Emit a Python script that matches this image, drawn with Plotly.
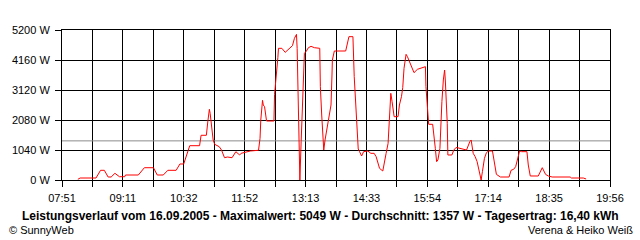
import plotly.graph_objects as go

# time of day in minutes after midnight, power in W
time_min = [492, 495, 516, 522, 527, 532, 536, 541, 547, 554, 555, 572, 580, 592, 597, 605, 611, 622,
            627, 632, 640, 653, 655, 662, 664, 666, 667, 670, 671, 673, 679, 682, 686, 690, 696, 701,
            706, 708, 713, 720, 731, 733, 734, 735.6, 736.3, 737.3, 739, 741.6, 751.4, 752.2, 754.8,
            756.6, 757.4, 761.9, 766.3, 775.9, 778.5, 781.2, 782.1, 783, 783.8, 784.3, 785.7, 787.4,
            789.1, 790, 791.7, 794.4, 797, 800.5, 804.9, 812, 812.8, 814.6, 816.4, 817.3, 819, 820.7,
            823.3, 825.2, 826.9, 828.2, 828.7, 831.3, 846.3, 850.6, 855.9, 857.6, 859.5, 861.2, 862.9,
            864.7, 867.4, 870, 875.7, 879.6, 884, 886.6, 888.4, 891.1, 895.4, 897.2, 899.8, 902.4,
            904.3, 906, 907.7, 910.4, 915.6, 917.4, 920.1, 921.8, 923.5, 926.2, 928, 932.4, 936.7,
            941.2, 946.5, 951.8, 952.5, 954.4, 955.2, 956.1, 961.4, 963.1, 964.9, 966.6, 968.3, 971,
            971.9, 973.6, 975.5, 977.2, 978.1, 979.8, 980.7, 981.5, 986.8, 989.4, 992.1, 993.9, 1006.2,
            1010.5, 1012.3, 1015, 1017.6, 1020.2, 1022.9, 1025.5, 1027.2, 1029.9, 1032.5, 1035.2,
            1040.5, 1043.1, 1045.7, 1051, 1062.5, 1065.1, 1068.5, 1071.2, 1073.8, 1076.4, 1079.1,
            1086.1, 1087.9, 1090.5, 1101.1, 1106.4, 1110.7, 1114.3, 1119.5, 1143.3, 1145, 1160.8, 1164.4]
power_w = [24, 69, 69, 336, 336, 104, 104, 232, 114, 114, 173, 173, 426, 426, 173, 173, 336, 336,
           555, 555, 1189, 1189, 1550, 1550, 2045, 2451, 2312, 1675, 1387, 1237, 1155, 1040, 773, 797, 773, 981,
           867, 925, 960, 1005, 1030, 1446, 2080, 2541, 2763, 2600, 2541, 2045, 2045, 2971, 3616,
           4241, 4565, 4565, 4426, 4657, 4911, 5049, 4565, 3236, 1907, 635, 0, 1328,
           2485, 3640, 4392, 4472, 4587, 4634, 4587, 4565, 3236, 2253, 1446, 1040, 1387, 1675,
           2022, 2277, 2600, 3640, 4160, 4472, 4472, 4969, 4969, 3582, 2600, 1618, 1075,
           982, 832, 982, 1005, 925, 925, 809, 635, 404, 312, 520, 925, 1271,
           2138, 3005, 2715, 2195, 2195, 2600, 2889, 3201, 3871, 4357, 4276, 3987, 3721,
           3837, 3894, 3929, 3236, 2658, 2195, 1931, 1931, 1387, 1098, 635, 693, 1098,
           1907, 2715, 3467, 3813, 3467, 2715, 1965, 867, 867, 1040, 1121, 1121, 1040,
           1328, 1387, 925, 809, 635, 289, 0, 289, 751, 947, 1005,
           1005, 520, 197, 104, 104, 336, 371, 462, 773, 1005, 982,
           982, 520, 139, 139, 427, 197, 139, 104, 104, 69, 69, 35]

average_w = 1357
x_start, x_end = 471, 1196          # 07:51 .. 19:56
y_ticks = [0, 1040, 2080, 3120, 4160, 5200]
y_labels = ["0 W", "1040 W", "2080 W", "3120 W", "4160 W", "5200 W"]
x_labels = ["07:51", "09:11", "10:32", "11:52", "13:13", "14:33", "15:54", "17:14", "18:35", "19:56"]
title_text = ("Leistungsverlauf vom 16.09.2005 - Maximalwert: 5049 W - Durchschnitt: 1357 W"
              " - Tagesertrag: 16,40 kWh")

n_div = 18
step = (x_end - x_start) / n_div
x_tickvals = [x_start + i * step for i in range(n_div + 1)]
x_ticktext = [x_labels[i // 2] if i % 2 == 0 else "" for i in range(n_div + 1)]

FONT = "Liberation Sans, Arial, sans-serif"

fig = go.Figure()
fig.add_trace(go.Scatter(x=[x_start, x_end], y=[average_w, average_w], mode="lines",
                         line=dict(color="#8c8c8c", width=1), hoverinfo="skip"))
fig.add_trace(go.Scatter(x=time_min, y=power_w, mode="lines",
                         line=dict(color="#ff0000", width=1)))

fig.update_layout(
    width=640, height=240,
    margin=dict(l=60, r=30, t=30, b=60),
    paper_bgcolor="white", plot_bgcolor="white",
    showlegend=False,
    font=dict(family=FONT, size=11, color="black"),
    xaxis=dict(range=[x_start, x_end], tickvals=x_tickvals, ticktext=x_ticktext,
               showgrid=True, gridcolor="black", gridwidth=1, zeroline=False,
               showline=True, linecolor="black", linewidth=1, mirror=True,
               ticks="outside", ticklen=6, tickcolor="black", tickwidth=1,
               tickfont=dict(family=FONT, size=11, color="black"), ticklabelstandoff=2),
    yaxis=dict(range=[0, 5200], tickvals=y_ticks, ticktext=y_labels,
               showgrid=True, gridcolor="black", gridwidth=1, zeroline=False,
               showline=True, linecolor="black", linewidth=1, mirror=True,
               ticks="outside", ticklen=6, tickcolor="black", tickwidth=1,
               tickfont=dict(family=FONT, size=11, color="black"), ticklabelstandoff=3),
    annotations=[
        dict(text="<b>" + title_text + "</b>", xref="paper", yref="paper",
             x=0.471, y=-0.24, xanchor="center", yanchor="middle", showarrow=False,
             font=dict(family=FONT, size=12, color="black")),
        dict(text="© SunnyWeb", xref="paper", yref="paper", x=-0.1, y=-0.33,
             xanchor="left", yanchor="middle", showarrow=False,
             font=dict(family=FONT, size=11, color="black")),
        dict(text="Verena & Heiko Weiß", xref="paper", yref="paper", x=1.0455, y=-0.33,
             xanchor="right", yanchor="middle", showarrow=False,
             font=dict(family=FONT, size=11, color="black")),
    ],
)

fig.write_html("out.html")
